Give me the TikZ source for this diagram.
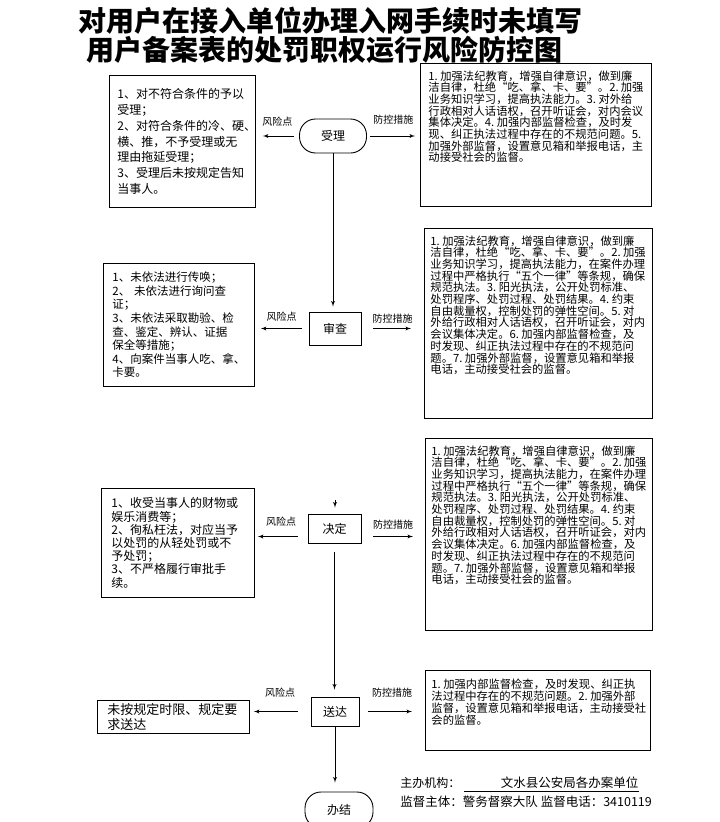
\documentclass[tikz,border=0pt]{standalone}
\usepackage{fontspec}
\setmainfont{Noto Sans CJK SC}
\usetikzlibrary{arrows}
\usetikzlibrary{calc}

\newcommand{\topbox}[3]{\parbox[c][#1][t]{#2}{#3}}

\begin{document}
\begin{tikzpicture}[x=1pt,y=-1pt,line width=0.9pt,
	proc/.style={draw, inner sep=0pt, font=\fontsize{12}{14}\selectfont},
	riskbox/.style={draw, anchor=north west, align=left, inner ysep=0pt},
	ctrlbox/.style={draw, anchor=north west, inner xsep=7pt, inner ysep=7pt, font=\fontsize{11.3}{11.7}\selectfont},
	flow/.style={->,>=latex'},
	lbl/.style={inner sep=0pt, font=\fontsize{10}{12}\selectfont}]
	\useasboundingbox (0,0) rectangle (720,822);

	% Title
	\node[inner sep=0pt, font=\fontsize{28}{28}\selectfont\bfseries] (title1) at (330,21) {对用户在接入单位办理入网手续时未填写};
	\node[inner sep=0pt, font=\fontsize{28}{28}\selectfont\bfseries] (title2) at (324,50) {用户备案表的处罚职权运行风险防控图};

	% Steps
	\node[proc, rounded corners=16pt, minimum width=67pt, minimum height=34pt] (shouli) at (333,136) {受理};
	\node[proc, minimum width=52pt, minimum height=33pt] (shencha) at (335,328.5) {审查};
	\node[proc, minimum width=53pt, minimum height=29pt] (jueding) at (334.5,528.5) {决定};
	\node[proc, minimum width=48pt, minimum height=29pt] (songda) at (335,711.5) {送达};
	\node[proc, rounded corners=16pt, minimum width=68pt, minimum height=36pt] (banjie) at (339,810) {办结};

	% Risk points
	\node[riskbox, inner xsep=8pt, text width=130pt, minimum height=132pt, font=\fontsize{12}{15.8}\selectfont] (risk1) at (109,75)
	{1、对不符合条件的予以\\受理；\\2、对符合条件的冷、硬、\\横、推，不予受理或无\\理由拖延受理；\\3、受理后未按规定告知\\当事人。};
	\node[riskbox, inner xsep=9pt, text width=133pt, minimum height=123pt, font=\fontsize{11.5}{13.6}\selectfont] (risk2) at (103,263)
	{1、未依法进行传唤；\\2、 未依法进行询问查\\证；\\3、未依法采取勘验、检\\查、鉴定、辨认、证据\\保全等措施；\\4、向案件当事人吃、拿、\\卡要。};
	\node[riskbox, inner xsep=10pt, text width=133pt, minimum height=109pt, font=\fontsize{12}{13.2}\selectfont] (risk3) at (101,488)
	{1、收受当事人的财物或\\娱乐消费等；\\2、徇私枉法，对应当予\\以处罚的从轻处罚或不\\予处罚；\\3、不严格履行审批手\\续。};
	\node[riskbox, inner xsep=10pt, text width=132pt, minimum height=33pt, font=\fontsize{13}{14.5}\selectfont] (risk4) at (97,700)
	{未按规定时限、规定要\\求送达};

	% Control measures
	\node[ctrlbox, inner xsep=8pt] (ctrl1) at (420,63) {\topbox{129pt}{215pt}{%
	1.~加强法纪教育，增强自律意识，做到廉\\
	洁自律，杜绝“吃、拿、卡、要”。2.~加强\\
	业务知识学习，提高执法能力。3.~对外给\\
	行政相对人话语权，召开听证会，对内会议\\
	集体决定。4.~加强内部监督检查，及时发\\
	现、纠正执法过程中存在的不规范问题。5.\\
	加强外部监督，设置意见箱和举报电话，主\\
	动接受社会的监督。}};
	\node[ctrlbox, inner xsep=6pt] (ctrl2) at (424,228) {\topbox{176pt}{216pt}{%
	1.~加强法纪教育，增强自律意识，做到廉\\
	洁自律，杜绝“吃、拿、卡、要”。2.~加强\\
	业务知识学习，提高执法能力，在案件办理\\
	过程中严格执行“五个一律”等条规，确保\\
	规范执法。3.~阳光执法，公开处罚标准、\\
	处罚程序、处罚过程、处罚结果。4.~约束\\
	自由裁量权，控制处罚的弹性空间。5.~对\\
	外给行政相对人话语权，召开听证会，对内\\
	会议集体决定。6.~加强内部监督检查，及\\
	时发现、纠正执法过程中存在的不规范问\\
	题。7.~加强外部监督，设置意见箱和举报\\
	电话，主动接受社会的监督。}};
	\node[ctrlbox, inner xsep=6pt] (ctrl3) at (425,438) {\topbox{178pt}{215pt}{%
	1.~加强法纪教育，增强自律意识，做到廉\\
	洁自律，杜绝“吃、拿、卡、要”。2.~加强\\
	业务知识学习，提高执法能力，在案件办理\\
	过程中严格执行“五个一律”等条规，确保\\
	规范执法。3.~阳光执法，公开处罚标准、\\
	处罚程序、处罚过程、处罚结果。4.~约束\\
	自由裁量权，控制处罚的弹性空间。5.~对\\
	外给行政相对人话语权，召开听证会，对内\\
	会议集体决定。6.~加强内部监督检查，及\\
	时发现、纠正执法过程中存在的不规范问\\
	题。7.~加强外部监督，设置意见箱和举报\\
	电话，主动接受社会的监督。}};
	\node[ctrlbox, inner xsep=6pt, inner ysep=8pt, font=\fontsize{11.3}{12.2}\selectfont] (ctrl4) at (425,670) {\topbox{64pt}{213pt}{%
	1.~加强内部监督检查，及时发现、纠正执\\
	法过程中存在的不规范问题。2.~加强外部\\
	监督，设置意见箱和举报电话，主动接受社\\
	会的监督。}};

	% Flow down
	\draw[flow, shorten >=5pt] (shouli.south) -- (shouli.south |- shencha.north);
	\draw[flow, shorten <=155pt, shorten >=6pt] (shencha.south) -- (shencha.south |- jueding.north);
	\draw[flow, shorten <=9pt, shorten >=7pt] (jueding.south) -- (jueding.south |- songda.north);
	\draw[flow, shorten >=9pt] (songda.south) -- (songda.south |- banjie.north);

	% Risk points / control measures arrows
	\draw[flow, shorten <=5pt, shorten >=7pt] (shouli.west) -- (shouli.west -| risk1.east) node[lbl, midway, above=9pt] {风险点};
	\draw[flow, shorten <=3pt, shorten >=5pt] (shouli.east) -- (shouli.east -| ctrl1.west) node[lbl, midway, above=11pt] {防控措施};

	\draw[flow, shorten <=7pt, shorten >=6pt] (shencha.west) -- (shencha.west -| risk2.east) node[lbl, midway, above=7pt] {风险点};
	\draw[flow, shorten <=12pt, shorten >=13pt] (shencha.east) -- (shencha.east -| ctrl2.west) node[lbl, midway, above=5pt] {防控措施};

	\coordinate (jd-l) at ($(jueding.west)+(0,8)$);
	\coordinate (jd-r) at ($(jueding.east)+(0,8)$);
	\draw[flow, shorten <=10pt, shorten >=3pt] (jd-l) -- (jd-l -| risk3.east) node[lbl, midway, above=10pt] {风险点};
	\draw[flow, shorten <=12pt, shorten >=12pt] (jd-r) -- (jd-r -| ctrl3.west) node[lbl, midway, above=7pt] {防控措施};

	\draw[flow, shorten <=13pt, shorten >=4pt] (songda.west) -- (songda.west -| risk4.east) node[lbl, midway, above=14pt] {风险点};
	\draw[flow, shorten <=9pt, shorten >=13pt] (songda.east) -- (songda.east -| ctrl4.west) node[lbl, midway, above=14pt] {防控措施};

	% Footer
	\node[inner sep=0pt, anchor=west, font=\fontsize{12}{14}\selectfont] (orglbl) at (400,783) {主办机构：};
	\node[inner xsep=0pt, inner ysep=2pt, anchor=west, text width=174pt, align=right, font=\fontsize{12.5}{14}\selectfont] (orgname) at (464,783) {文水县公安局各办案单位};
	\draw[line width=0.7pt] (orgname.south west) -- (orgname.south east);
	\node[inner sep=0pt, anchor=west, font=\fontsize{12.5}{14}\selectfont] (supervise) at (400,802) {监督主体：警务督察大队 监督电话：3410119};
\end{tikzpicture}
\end{document}
